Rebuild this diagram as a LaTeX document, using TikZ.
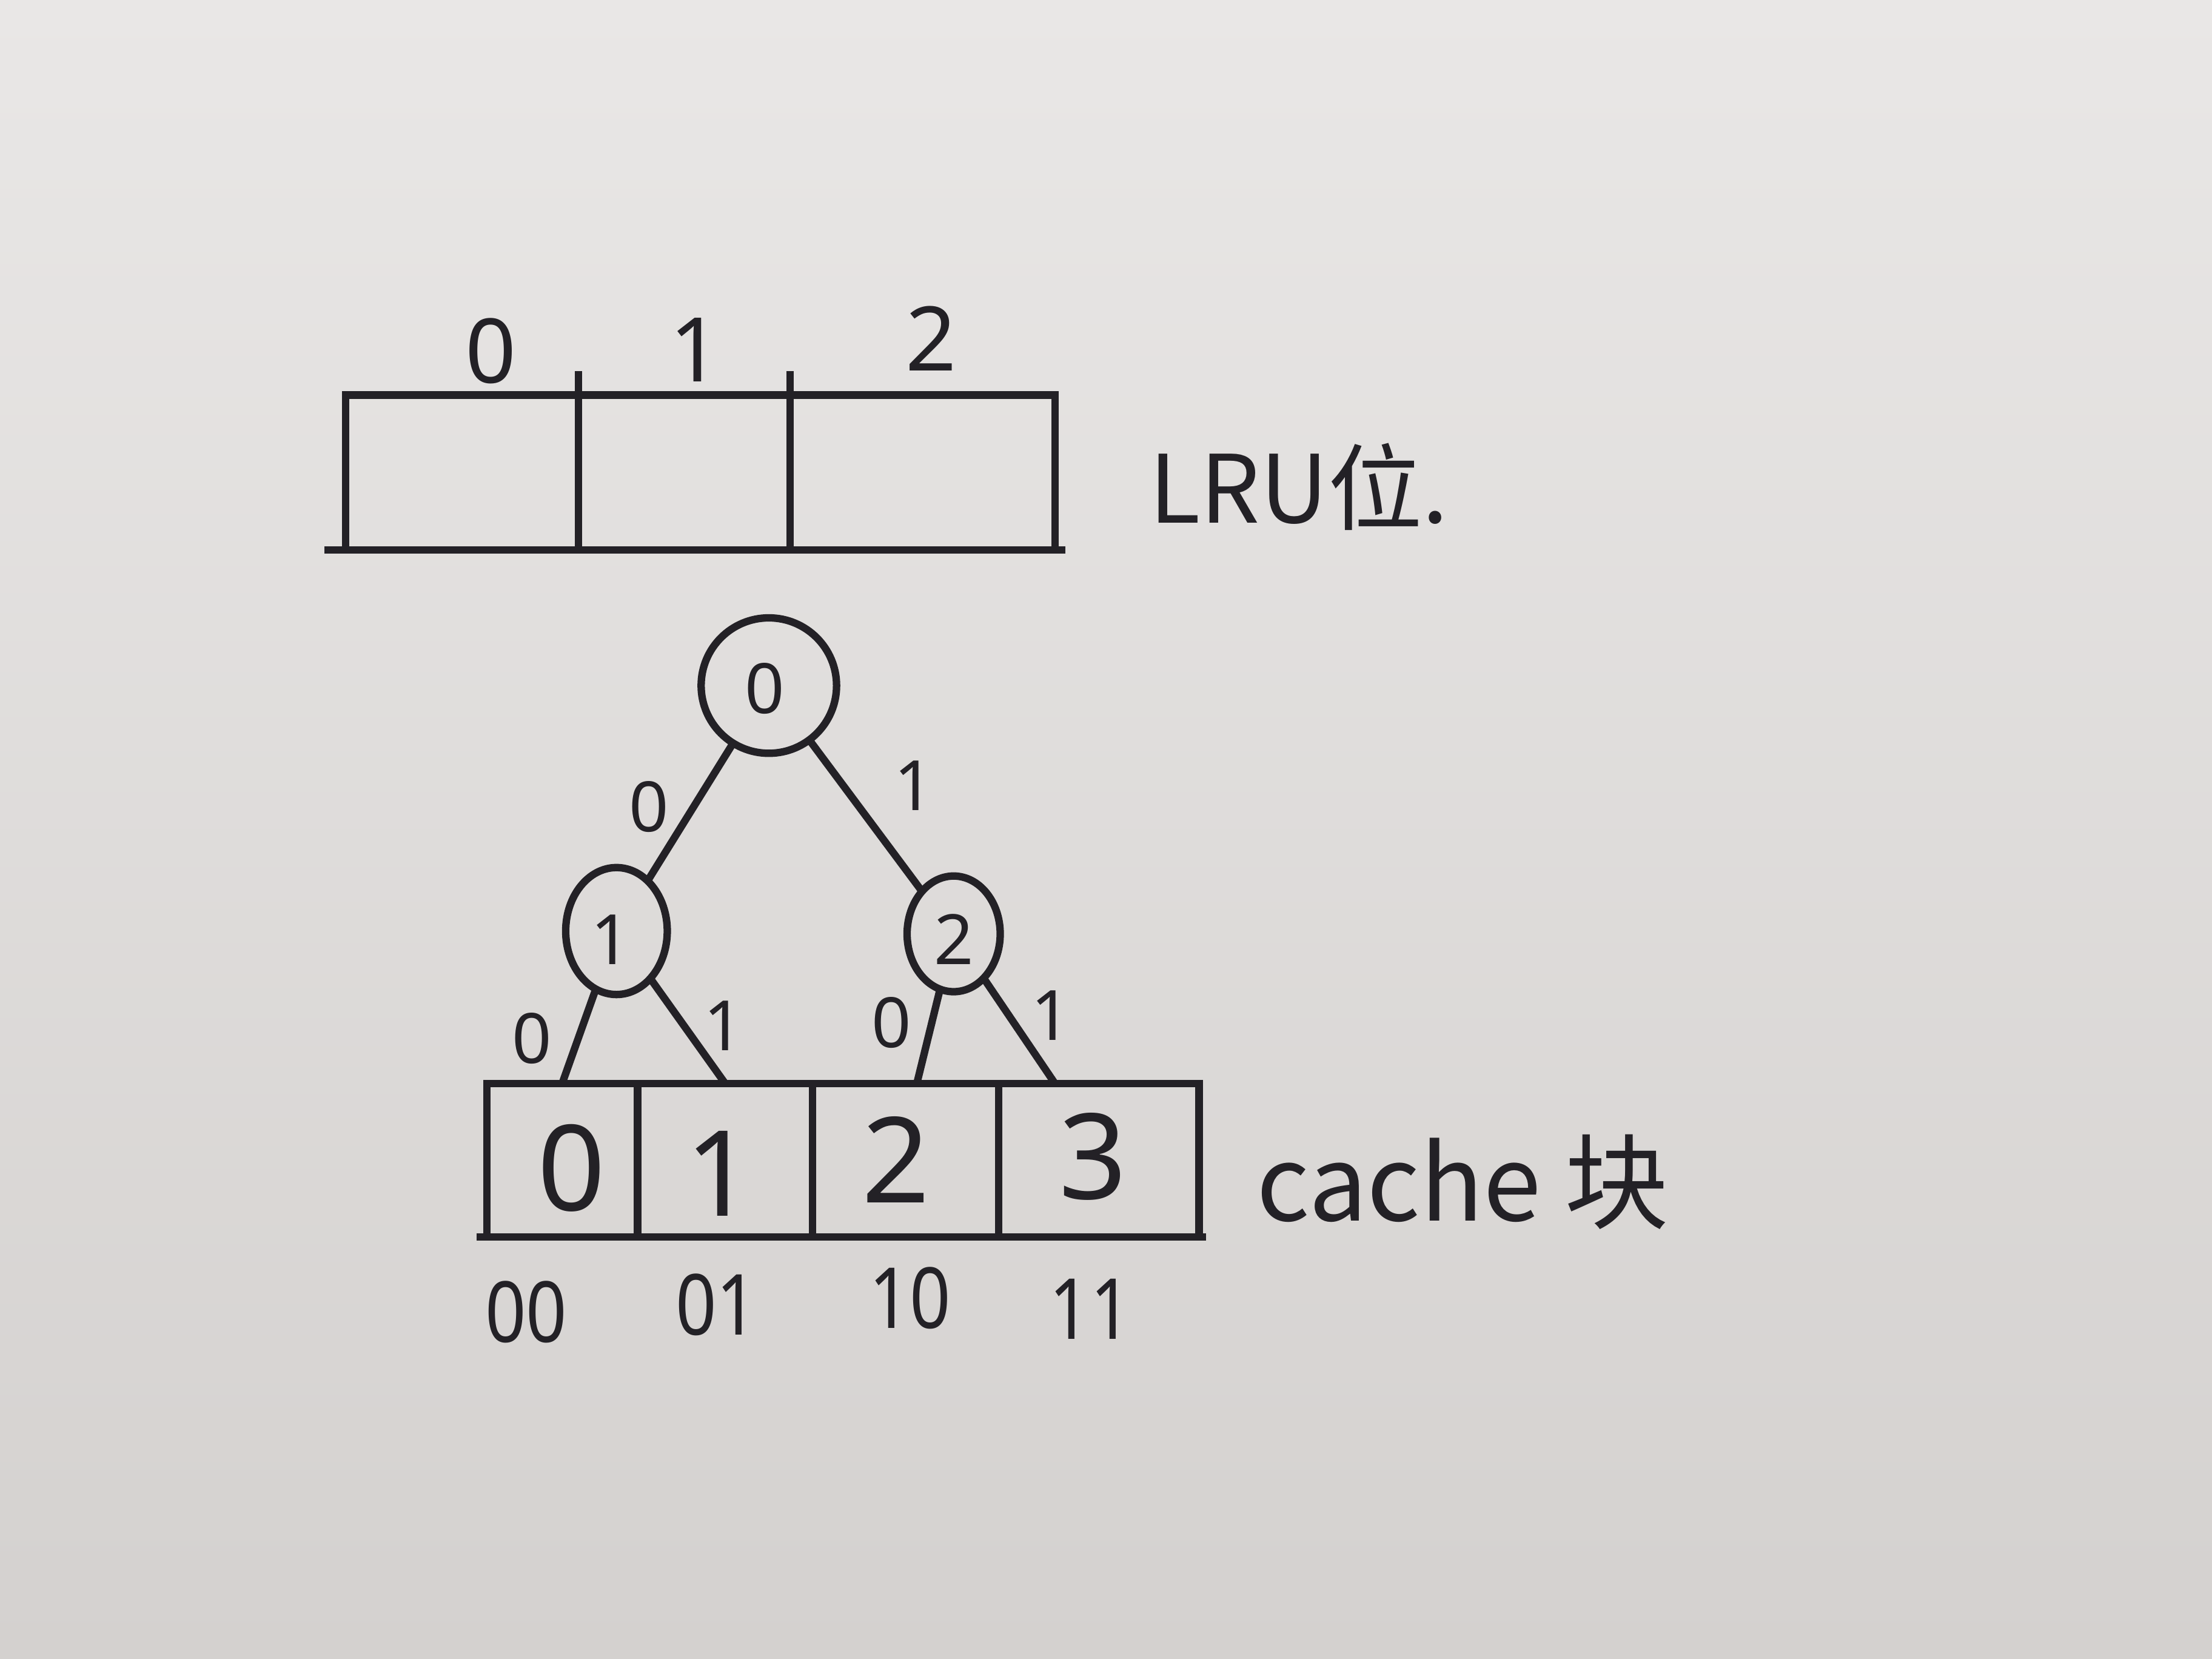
\documentclass[tikz,border=0pt]{standalone}
\usepackage{fontspec}
\setmainfont{Noto Sans}
\newfontfamily\cjk{Noto Sans CJK SC}
\usetikzlibrary{shapes.geometric,calc}
\definecolor{ink}{RGB}{35,33,38}
\definecolor{papertop}{RGB}{233,231,230}
\definecolor{paperbot}{RGB}{212,209,207}
\tikzset{
  ln/.style={draw=ink, line width=1.5pt},
  cellbox/.style={ln, rectangle, inner sep=0pt, outer sep=0pt},
  treenode/.style={ln, inner sep=0pt, outer sep=0pt},
  txt/.style={text=ink, inner sep=0pt},
  bigdig/.style={txt, font=\fontsize{24}{24}\selectfont},
  middig/.style={txt, font=\fontsize{18}{18}\selectfont},
  pairdig/.style={txt, font=\fontsize{17}{17}\selectfont, xscale=0.85},
  smalldig/.style={txt, font=\fontsize{14}{14}\selectfont},
  label/.style={txt, font=\cjk\fontsize{21}{21}\selectfont}
}
\begin{document}
\begin{tikzpicture}
\shade[top color=papertop, bottom color=paperbot] (0,0) rectangle (15.68,11.76);
\useasboundingbox (0,0) rectangle (15.68,11.76);

% LRU bits row
\node[cellbox, minimum width=1.65cm, minimum height=1.10cm] (l0) at (3.275,8.41) {};
\node[cellbox, minimum width=1.50cm, minimum height=1.10cm] (l1) at (4.85,8.41) {};
\node[cellbox, minimum width=1.88cm, minimum height=1.10cm] (l2) at (6.54,8.41) {};
\draw[ln] ([xshift=-0.15cm]l0.south west) -- ([xshift=0.07cm]l2.south east);
\draw[ln] ([yshift=0.17cm]l0.north east) -- (l0.north east);
\draw[ln] ([yshift=0.17cm]l1.north east) -- (l1.north east);
\node[middig] (b0) at (3.48,9.27) {0};
\node[middig] (b1) at (4.93,9.28) {1};
\node[middig] (b2) at (6.60,9.36) {2};
\node[label, anchor=west, font=\cjk\fontsize{19}{19}\selectfont] (lrulabel) at (8.14,8.31) {LRU位.};

% tree
\node[treenode, circle, minimum size=0.96cm] (r) at (5.45,6.90) {};
\node[treenode, ellipse, minimum width=0.72cm, minimum height=0.90cm] (n1) at (4.37,5.16) {};
\node[treenode, ellipse, minimum width=0.66cm, minimum height=0.82cm] (n2) at (6.76,5.14) {};
\node[smalldig] (rt) at (5.42,6.88) {0};
\node[smalldig] (n1t) at (4.33,5.10) {1};
\node[smalldig] (n2t) at (6.76,5.10) {2};

% cache row
\node[cellbox, minimum width=1.07cm, minimum height=1.09cm] (c0) at (3.985,3.535) {};
\node[cellbox, minimum width=1.24cm, minimum height=1.09cm] (c1) at (5.14,3.535) {};
\node[cellbox, minimum width=1.32cm, minimum height=1.09cm] (c2) at (6.42,3.535) {};
\node[cellbox, minimum width=1.42cm, minimum height=1.09cm] (c3) at (7.79,3.535) {};
\draw[ln] ([xshift=-0.07cm]c0.south west) -- ([xshift=0.05cm]c3.south east);
\node[bigdig] (c0t) at (4.05,3.48) {0};
\node[bigdig] (c1t) at (5.10,3.44) {1};
\node[bigdig] (c2t) at (6.35,3.54) {2};
\node[bigdig] (c3t) at (7.75,3.56) {3};
\node[pairdig] (a0) at (3.73,2.46) {00};
\node[pairdig] (a1) at (5.08,2.51) {01};
\node[pairdig] (a2) at (6.45,2.56) {10};
\node[pairdig] (a3) at (7.73,2.48) {11};
\node[label, anchor=west] (cachelabel) at (8.90,3.38) {cache 块};

% edges
\draw[ln] (r) -- (n1);
\draw[ln] (r) -- (n2);
\draw[ln] (n1) -- ($(c0.north west)!0.5!(c0.north east)$);
\draw[ln] (n1) -- (c1.north);
\draw[ln] (n2) -- ($(c2.north west)!0.56!(c2.north east)$);
\draw[ln] (n2) -- ($(c3.north west)!0.28!(c3.north east)$);
\node[smalldig] (e1) at (4.60,6.04) {0};
\node[smalldig] (e2) at (6.48,6.19) {1};
\node[smalldig] (e3) at (3.77,4.40) {0};
\node[smalldig] (e4) at (5.13,4.49) {1};
\node[smalldig] (e5) at (6.32,4.51) {0};
\node[smalldig] (e6) at (7.45,4.56) {1};
\end{tikzpicture}
\end{document}
